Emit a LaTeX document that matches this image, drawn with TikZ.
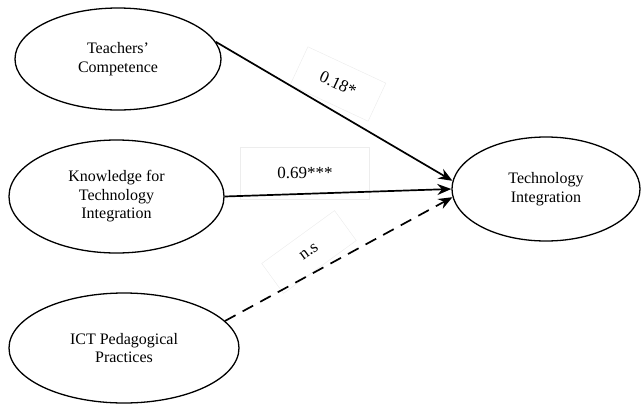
\documentclass[tikz,border=0pt]{standalone}
\usepackage{fontspec}
\setmainfont{Liberation Serif}
\usetikzlibrary{shapes.geometric,arrows.meta}
\begin{document}
\begin{tikzpicture}[x=1pt,y=-1pt,
  latent/.style={draw, ellipse, line width=1.3pt, inner sep=0pt, align=center,
    font=\fontsize{16}{18.5}\selectfont},
  path/.style={line width=1.7pt, -{Stealth[length=14pt,width=11pt]}},
  lbl/.style={font=\fontsize{17}{19}\selectfont, draw=black!7, line width=0.5pt, inner sep=0pt}]
\useasboundingbox (0,0) rectangle (641,405);
\node[latent, minimum width=206pt, minimum height=102pt] (tc) at (118,59) {Teachers'\\Competence};
\node[latent, minimum width=215pt, minimum height=113pt] (kt) at (116.5,196.5) {Knowledge for\\Technology\\Integration};
\node[latent, minimum width=230pt, minimum height=110pt] (ict) at (124,348) {ICT Pedagogical\\Practices};
\node[latent, minimum width=188pt, minimum height=104pt] (ti) at (546,189) {Technology\\Integration};
\node[lbl, rotate=-25, minimum width=86pt, minimum height=42pt] (l1) at (338,84) {0.18*};
\node[lbl, minimum width=129pt, minimum height=52pt] (l2) at (305,173) {0.69***};
\node[lbl, rotate=36, minimum width=90pt, minimum height=37pt] (l3) at (309,252) {n.s};
\draw[path] (tc.10) -- (ti.175);
\draw[path] (kt.east) -- (ti.180);
\draw[path, dash pattern=on 12pt off 8pt] (ict.15) -- (ti.185);
\end{tikzpicture}
\end{document}
